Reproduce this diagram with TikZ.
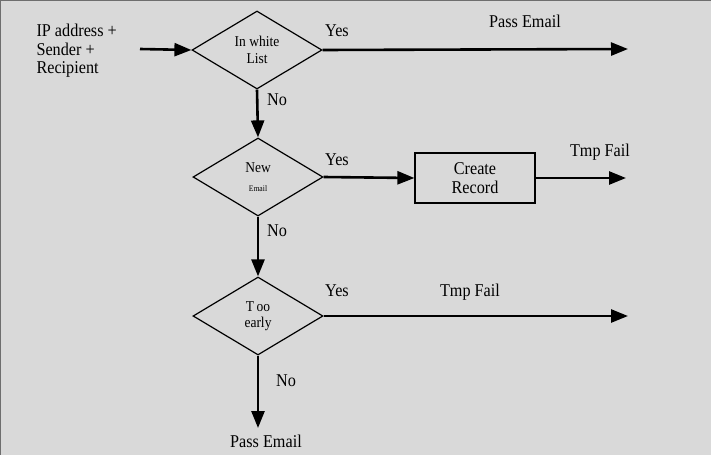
\documentclass[tikz,border=0pt]{standalone}
\usepackage{fontspec}
\setmainfont[FakeStretch=0.9]{Liberation Serif}
\usetikzlibrary{arrows.meta,shapes.geometric}
\definecolor{fondo}{RGB}{217, 217, 217}
\definecolor{borde}{RGB}{110, 110, 110}

\tikzset{
  decision/.style={diamond, draw, line width=1.2pt, inner sep=0pt,
    minimum width=130pt, minimum height=78pt, align=center,
    font=\fontsize{15}{16.5}\selectfont},
  caja/.style={rectangle, draw, line width=1.2pt, minimum width=120pt,
    minimum height=50pt, align=center, font=\fontsize{18}{19}\selectfont},
  flecha/.style={line width=2.6pt, -{Triangle[length=17pt,width=13pt]}},
  etiqueta/.style={font=\fontsize{18}{18.5}\selectfont}
}

\begin{document}
\begin{tikzpicture}[x=1pt, y=-1pt]
    \useasboundingbox (0,0) rectangle (711,455);
    \fill[color=fondo] (0,0) rectangle (711,455);
    %Borde superior e izquierdo
    \draw[color=borde, line width=2pt] (0,455) -- (0,0) -- (711,0);

    %Entrada
    \node[etiqueta, align=left, anchor=west] (entrada) at (33,51)
      {IP address +\\Sender +\\Recipient};
    \coordinate (inicio) at (140,49);

    %Rombos de decision
    \node[decision] (blanca) at (257,50) {In white\\List};
    \node[decision] (nuevo) at (258,177)
      {New\\[3pt] {\fontsize{8.5}{9}\selectfont Email}};
    \node[decision] (pronto) at (258,316) {T\,oo\\early};

    %Caja
    \node[caja] (registro) at (475,178) {Create\\Record};

    %Extremos libres
    \coordinate (fin1) at (628,49);
    \coordinate (fin2) at (626,178);
    \coordinate (fin3) at (628,316);
    \coordinate (fin4) at (258,428);

    %Flechas
    \draw[flecha] (inicio) -- (blanca.west);
    \draw[flecha] (blanca.east) -- (fin1);
    \draw[flecha] (blanca.south) -- (nuevo.north);
    \draw[flecha] (nuevo.east) -- (registro.west);
    \draw[flecha] (registro.east) -- (fin2);
    \draw[flecha] (nuevo.south) -- (pronto.north);
    \draw[flecha] (pronto.east) -- (fin3);
    \draw[flecha] (pronto.south) -- (fin4);

    %Etiquetas
    \node[etiqueta] (si1) at (337,31) {Yes};
    \node[etiqueta] (si2) at (337,160) {Yes};
    \node[etiqueta] (si3) at (337,291) {Yes};
    \node[etiqueta] (no1) at (277,100) {No};
    \node[etiqueta] (no2) at (277,231) {No};
    \node[etiqueta] (no3) at (286,381) {No};
    \node[etiqueta] (pasa1) at (525,21) {Pass Email};
    \node[etiqueta] (falla1) at (600,152) {Tmp Fail};
    \node[etiqueta] (falla2) at (470,292) {Tmp Fail};
    \node[etiqueta] (pasa2) at (266,441) {Pass Email};
\end{tikzpicture}
\end{document}
